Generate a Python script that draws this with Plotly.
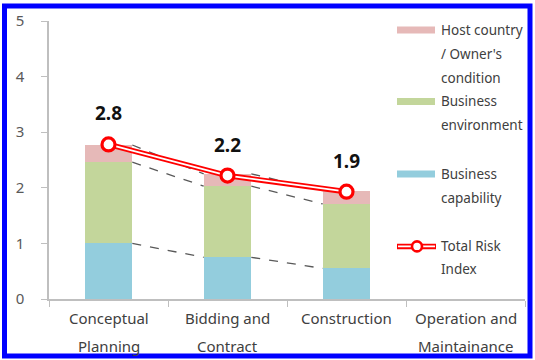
import plotly.graph_objects as go

# ---------------- data ----------------
category_line1 = ["Conceptual", "Bidding and", "Construction", "Operation and"]
category_line2 = ["Planning", "Contract", "", "Maintainance"]
phase_index = [0, 1, 2]

business_capability = [1.00, 0.75, 0.55]
business_environment = [1.46, 1.28, 1.16]
host_condition = [0.31, 0.22, 0.24]
total_risk_index = [2.78, 2.22, 1.93]

y_tick_values = [0, 1, 2, 3, 4, 5]

legend_host = ["Host country", "/ Owner's", "condition"]
legend_env = ["Business", "environment"]
legend_cap = ["Business", "capability"]
legend_total = ["Total Risk", "Index"]

# ---------------- styling ----------------
W, H = 535, 360
ML, MR, MT, MB = 49, 10, 19, 61
PW, PH = W - ML - MR, H - MT - MB
FONT = "Noto Sans"
C_CAP = "#93CDDD"
C_ENV = "#C3D69B"
C_HOST = "#E6B9B8"
C_RED = "#FF0000"
C_TXT = "#404040"
C_AX = "#BFBFBF"
BAR_W = 0.4


def px_x(p):
    return (p - ML) / PW


def px_y(p):
    return (H - MB - p) / PH


fig = go.Figure()

series = [
    ("Business capability", business_capability, C_CAP),
    ("Business environment", business_environment, C_ENV),
    ("Host country / Owner's condition", host_condition, C_HOST),
]
for name, vals, col in series:
    fig.add_trace(go.Bar(x=phase_index, y=vals, name=name, width=BAR_W,
                         marker=dict(color=col, line=dict(width=0)),
                         showlegend=False, hoverinfo="y+name"))

# series lines (dashed) connecting stack tops
level = [0.0] * len(phase_index)
for name, vals, col in series:
    level = [a + b for a, b in zip(level, vals)]
    xs, ys = [], []
    for i in range(len(phase_index) - 1):
        xs += [phase_index[i] + BAR_W / 2, phase_index[i + 1] - BAR_W / 2, None]
        ys += [level[i], level[i + 1], None]
    fig.add_trace(go.Scatter(x=xs, y=ys, mode="lines",
                             line=dict(color="#595959", width=1.3, dash="dash"),
                             showlegend=False, hoverinfo="skip"))

# total risk index: double red line with ring markers
fig.add_trace(go.Scatter(x=phase_index, y=total_risk_index, mode="lines",
                         line=dict(color=C_RED, width=5.5),
                         showlegend=False, hoverinfo="skip"))
fig.add_trace(go.Scatter(x=phase_index, y=total_risk_index, mode="lines",
                         line=dict(color="white", width=1.8),
                         showlegend=False, hoverinfo="skip"))
fig.add_trace(go.Scatter(x=phase_index, y=total_risk_index, mode="markers",
                         name="Total Risk Index",
                         marker=dict(symbol="circle", size=13, color="white",
                                     line=dict(color=C_RED, width=3.2)),
                         showlegend=False))

annotations = []
# value labels
for i, v in zip(phase_index, total_risk_index):
    annotations.append(dict(x=i, y=v, xref="x", yref="y", yshift=31,
                            text=f"<b>{v:.1f}</b>", showarrow=False,
                            font=dict(family=FONT, size=19, color="#111111")))
# category labels (two lines)
for i, (l1, l2) in enumerate(zip(category_line1, category_line2)):
    annotations.append(dict(x=i, y=0, xref="x", yref="y", yshift=-19,
                            text=l1, showarrow=False, yanchor="middle",
                            font=dict(family=FONT, size=15, color=C_TXT)))
    if l2:
        annotations.append(dict(x=i, y=0, xref="x", yref="y", yshift=-47,
                                text=l2, showarrow=False, yanchor="middle",
                                font=dict(family=FONT, size=15, color=C_TXT)))

# manual legend
shapes = []
legend_groups = [
    (legend_host, [28, 52, 76], C_HOST),
    (legend_env, [100, 124], C_ENV),
    (legend_cap, [173, 197], C_CAP),
    (legend_total, [246, 269], None),
]
for lines, ys, col in legend_groups:
    for t, yy in zip(lines, ys):
        annotations.append(dict(x=px_x(439), y=px_y(yy), xref="paper", yref="paper",
                                xanchor="left", yanchor="middle", text=t,
                                showarrow=False,
                                font=dict(family=FONT, size=13.5, color=C_TXT)))
    yc = ys[0]
    if col:
        shapes.append(dict(type="rect", xref="paper", yref="paper",
                           x0=px_x(397), x1=px_x(435),
                           y0=px_y(yc + 3.5), y1=px_y(yc - 3.5),
                           fillcolor=col, line=dict(width=0)))
    else:
        shapes.append(dict(type="line", xref="paper", yref="paper",
                           x0=px_x(397), x1=px_x(436), y0=px_y(yc), y1=px_y(yc),
                           line=dict(color=C_RED, width=5.5)))
        shapes.append(dict(type="line", xref="paper", yref="paper",
                           x0=px_x(398), x1=px_x(435), y0=px_y(yc), y1=px_y(yc),
                           line=dict(color="white", width=1.8)))
        shapes.append(dict(type="circle", xref="paper", yref="paper",
                           xsizemode="pixel", ysizemode="pixel",
                           xanchor=px_x(417), yanchor=px_y(yc),
                           x0=-5, x1=5, y0=-5, y1=5,
                           fillcolor="white", line=dict(color=C_RED, width=2.6)))

# blue frame
shapes.append(dict(type="rect", xref="paper", yref="paper", layer="above",
                   x0=px_x(4.5), x1=px_x(530), y0=px_y(356.5), y1=px_y(4),
                   line=dict(color="#0000FF", width=5), fillcolor="rgba(0,0,0,0)"))

fig.update_layout(
    width=W, height=H,
    margin=dict(l=ML, r=MR, t=MT, b=MB),
    paper_bgcolor="white", plot_bgcolor="white",
    barmode="stack", showlegend=False,
    font=dict(family=FONT, color=C_TXT),
    annotations=annotations, shapes=shapes,
    xaxis=dict(range=[-0.5, len(category_line1) - 0.5],
               tickvals=[k - 0.5 for k in range(len(category_line1) + 1)],
               ticktext=[""] * (len(category_line1) + 1),
               ticks="outside", ticklen=6, tickcolor=C_AX, tickwidth=1.3,
               showline=True, linecolor=C_AX, linewidth=1.5,
               showgrid=False, zeroline=False, fixedrange=True),
    yaxis=dict(range=[0, 5], tickvals=y_tick_values,
               ticktext=[str(v) for v in y_tick_values],
               ticks="outside", ticklen=6, tickcolor=C_AX, tickwidth=1.3,
               ticklabelstandoff=14,
               tickfont=dict(family=FONT, size=15, color="#595959"),
               showline=True, linecolor=C_AX, linewidth=1.5,
               showgrid=False, zeroline=False, fixedrange=True),
)

fig.write_html(
    "out.html",
    config={"displayModeBar": False},
    post_script="document.body.style.margin='0';document.body.style.overflow='hidden';",
)
